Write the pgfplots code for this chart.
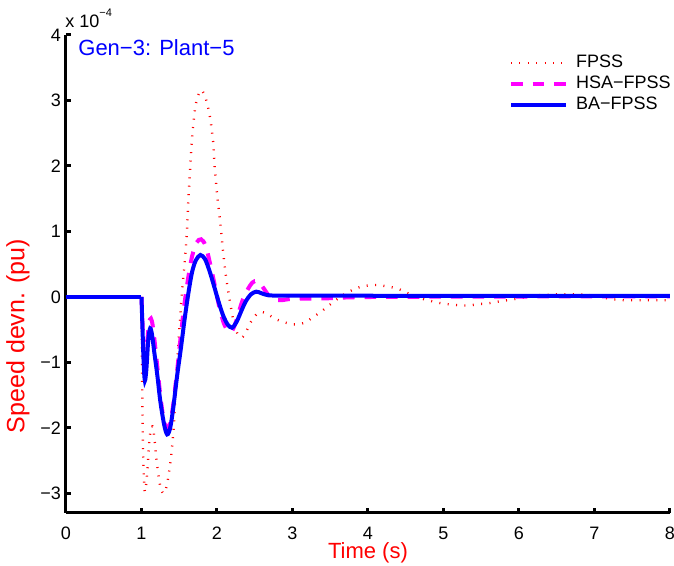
\documentclass[border=0pt]{standalone}
\usepackage{fontspec}
\setmainfont{Liberation Sans}
\usepackage{pgfplots}
\pgfplotsset{compat=1.18}
\definecolor{mblue}{RGB}{0,0,255}
\definecolor{mmag}{RGB}{255,0,255}
\definecolor{mred}{RGB}{255,0,0}
\begin{document}
\begin{tikzpicture}
\useasboundingbox (-33pt,-26.5pt) rectangle (304pt,256.5pt);
\begin{axis}[
  scale only axis, width=302pt, height=239pt,
  xmin=0, xmax=8, ymin=-3.3, ymax=4,
  axis x line*=bottom, axis y line*=left,
  axis line style={-, line width=1.5pt, black},
  tick align=inside, major tick length=2.5pt,
  every tick/.style={black, line width=1.5pt},
  xtick={0,...,8}, ytick={-3,...,4},
  yticklabels={−3,−2,−1,0,1,2,3,4},
  ticklabel style={font=\fontsize{9}{10}\selectfont},
  xticklabel style={yshift=-3.5pt},
  yticklabel style={xshift=1pt},
  /pgf/number format/assume math mode=true,
  xlabel={Time (s)}, ylabel={Speed devn. (pu)},
  label style={text=mred},
  x label style={at={(rel axis cs:0.5,-0.0837)}, anchor=center, font=\fontsize{11}{12}\selectfont},
  y label style={at={(rel axis cs:-0.0795,0.3703)}, anchor=center, font=\fontsize{12.5}{14}\selectfont},
  legend style={draw=none, fill=none, at={(rel axis cs:0.7335,0.9592)}, anchor=north west,
    inner sep=0pt, outer sep=0pt, row sep=2pt, column sep=4pt,
    nodes={inner sep=0pt, text height=6.5pt, text depth=2pt, font=\fontsize{9}{10}\selectfont}},
  legend cell align=left,
  legend image code/.code={\draw[#1] (0pt,0pt) -- (27.5pt,0pt);},
]
\addplot[mred, line width=1.2pt, dash pattern=on 0.5pt off 3.7pt, smooth, tension=0.5] coordinates {
(1.0,0)(1.008,-1.2)(1.02,-2.3)(1.035,-2.85)(1.05,-2.97)(1.075,-2.7)(1.1,-2.25)(1.13,-1.98)(1.16,-2.05)(1.2,-2.5)(1.25,-2.9)(1.3,-3.0)(1.34,-2.85)(1.38,-2.55)(1.42,-2.1)(1.45,-1.5)(1.48,-0.9)(1.51,-0.35)(1.54,0.12)(1.57,0.5)(1.6,0.97)(1.62,1.47)(1.645,1.98)(1.665,2.36)(1.685,2.62)(1.71,2.88)(1.74,3.04)(1.77,3.13)(1.79,3.16)(1.81,3.14)(1.84,3.07)(1.87,2.95)(1.91,2.73)(1.95,2.35)(1.97,1.98)(2.0,1.58)(2.04,1.17)(2.08,0.7)(2.12,0.3)(2.17,-0.06)(2.22,-0.38)(2.27,-0.56)(2.33,-0.62)(2.39,-0.52)(2.45,-0.38)(2.52,-0.27)(2.6,-0.23)(2.68,-0.27)(2.78,-0.34)(2.9,-0.39)(3.0,-0.42)(3.07,-0.42)(3.17,-0.39)(3.27,-0.31)(3.36,-0.24)(3.45,-0.16)(3.54,-0.08)(3.63,0.0)(3.72,0.06)(3.8,0.11)(3.92,0.16)(4.05,0.18)(4.15,0.18)(4.25,0.16)(4.35,0.14)(4.45,0.1)(4.56,0.04)(4.66,0.0)(4.75,-0.04)(4.86,-0.07)(4.98,-0.1)(5.13,-0.12)(5.25,-0.13)(5.35,-0.13)(5.46,-0.11)(5.58,-0.1)(5.68,-0.08)(5.79,-0.06)(5.9,-0.04)(6.01,-0.02)(6.21,0.02)(6.34,0.03)(6.56,0.04)(6.78,0.04)(6.99,0.02)(7.1,0.0)(7.2,-0.03)(7.43,-0.05)(8,-0.05)
};
\addlegendentry{FPSS}
\addplot[mmag, line width=2pt, dash pattern=on 5.8pt off 5pt, smooth, tension=0.5] coordinates {
(1.0,0)(1.015,-0.45)(1.03,-0.85)(1.05,-1.0)(1.075,-0.7)(1.1,-0.4)(1.125,-0.33)(1.15,-0.45)(1.19,-0.85)(1.23,-1.3)(1.27,-1.7)(1.31,-1.95)(1.34,-2.0)(1.38,-1.92)(1.42,-1.65)(1.47,-1.15)(1.52,-0.6)(1.57,-0.1)(1.62,0.3)(1.67,0.62)(1.73,0.83)(1.79,0.88)(1.85,0.78)(1.91,0.5)(1.97,0.18)(2.03,-0.15)(2.09,-0.4)(2.15,-0.53)(2.2,-0.52)(2.26,-0.35)(2.33,-0.08)(2.4,0.1)(2.47,0.22)(2.53,0.24)(2.6,0.16)(2.68,0.03)(2.76,-0.04)(2.86,-0.05)(3.0,-0.03)(3.5,-0.02)(4.2,0.0)(8,0.01)
};
\addlegendentry{HSA−FPSS}
\addplot[mblue, line width=2pt, smooth, tension=0.5] coordinates {
(1.0,0)(1.015,-0.55)(1.03,-1.05)(1.045,-1.28)(1.065,-1.1)(1.09,-0.65)(1.115,-0.48)(1.14,-0.58)(1.17,-0.85)(1.21,-1.2)(1.25,-1.6)(1.3,-1.95)(1.34,-2.1)(1.38,-2.0)(1.42,-1.7)(1.47,-1.22)(1.52,-0.8)(1.57,-0.35)(1.62,0.05)(1.67,0.38)(1.72,0.56)(1.78,0.64)(1.84,0.58)(1.9,0.4)(1.96,0.17)(2.02,-0.07)(2.08,-0.28)(2.14,-0.42)(2.2,-0.47)(2.26,-0.38)(2.32,-0.22)(2.38,-0.07)(2.45,0.04)(2.52,0.08)(2.58,0.06)(2.66,0.03)(2.8,0.02)(3.5,0.02)(5,0.015)(8,0.015)
};
\addlegendentry{BA−FPSS}
\addplot[mred, line width=1.2pt, dash pattern=on 0.5pt off 3.7pt, forget plot] coordinates {(0,0)(1.0,0)};
\addplot[mmag, line width=2pt, dash pattern=on 5.8pt off 5pt, forget plot] coordinates {(0,0)(1.0,0)};
\addplot[mblue, line width=2pt, forget plot] coordinates {(0,0)(1.0,0)};
\end{axis}
\node[anchor=base west, font=\fontsize{11}{12}\selectfont, text=mblue, inner sep=0pt] at (6pt,228.5pt) {Gen−3: Plant−5};
\node[anchor=base west, font=\fontsize{9}{10}\selectfont, inner sep=0pt] at (-0.5pt,242.5pt) {x 10\raisebox{5.5pt}{\fontsize{5.5}{6}\selectfont −4}};
\end{tikzpicture}
\end{document}
